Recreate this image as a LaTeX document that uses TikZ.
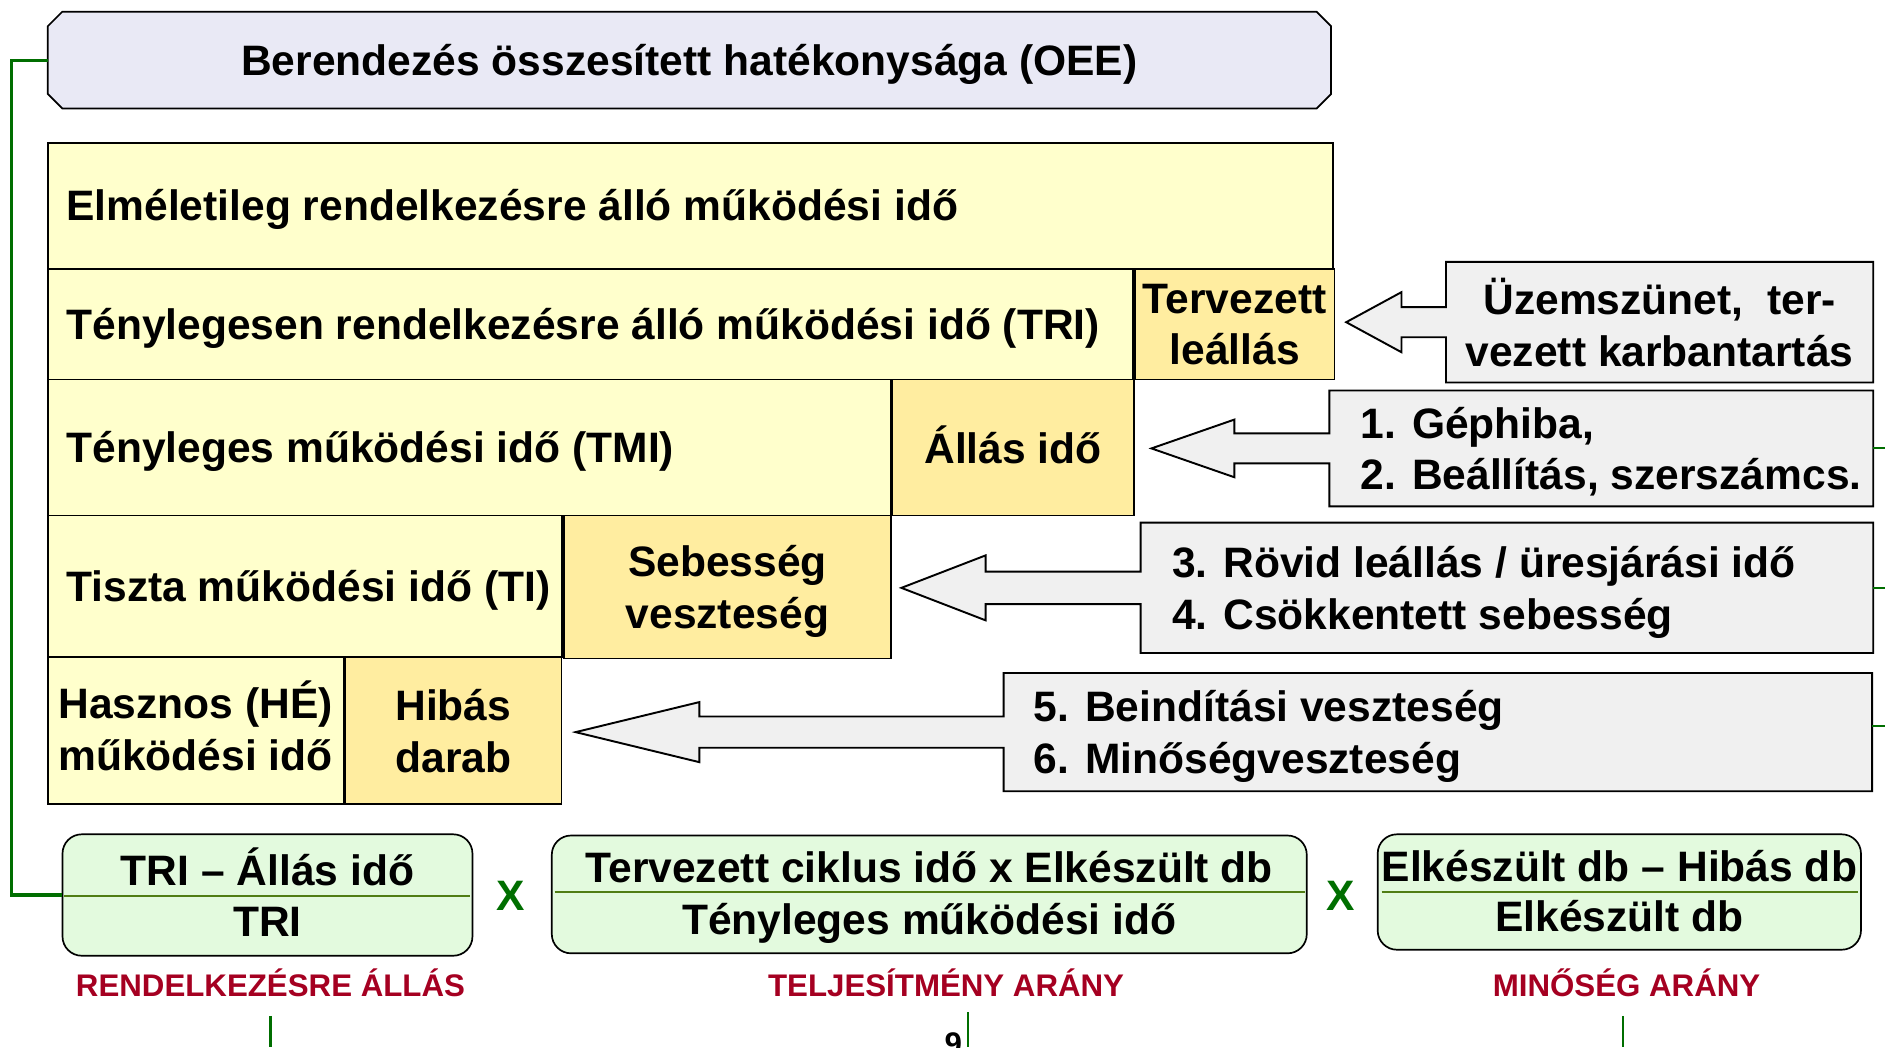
\documentclass[tikz,border=0pt]{standalone}
\usepackage{fontspec}
\setmainfont{Liberation Sans}
\usetikzlibrary{calc,backgrounds}

\definecolor{paleyellow}{HTML}{FFFFCC}
\definecolor{lossyellow}{HTML}{FFEDA0}
\definecolor{calloutgray}{HTML}{F0F0F0}
\definecolor{titlelav}{HTML}{E9E9F5}
\definecolor{formulagreen}{HTML}{E3FADE}
\definecolor{linkgreen}{RGB}{0,110,0}
\definecolor{barolive}{RGB}{80,125,20}
\definecolor{ratiored}{RGB}{165,0,33}

\newcommand{\bigtxt}{\fontsize{35.4bp}{43bp}\selectfont\bfseries}
\newcommand{\redtxt}{\fontsize{26bp}{30bp}\selectfont\bfseries}
\newcommand{\pagetxt}{\fontsize{26bp}{30bp}\selectfont\bfseries}

% callout outline: box plus left-pointing block arrow
% #1 node, #2 arrow head base (offset from west), #3 tip offset, #4 head half height, #5 shaft half height
\newcommand{\calloutoutline}[5]{%
  \draw[callout] (#1.north west) -- (#1.north east) -- (#1.south east) -- (#1.south west)
    -- ($(#1.west)+(0,#5)$) -- ($(#1.west)+(#2,#5)$) -- ($(#1.west)+(#2,#4)$)
    -- ($(#1.west)+(#3,0)$)
    -- ($(#1.west)+(#2,-#4)$) -- ($(#1.west)+(#2,-#5)$) -- ($(#1.west)+(0,-#5)$) -- cycle;}

\begin{document}
\begin{tikzpicture}[x=1bp,y=-1bp,
  box/.style={draw=black, line width=1.4bp, inner sep=0pt, anchor=north west},
  base/.style={box, fill=paleyellow},
  loss/.style={box, fill=lossyellow, font=\bigtxt, align=center, text depth=0pt},
  txt/.style={font=\bigtxt, inner sep=0pt},
  holder/.style={inner sep=0pt, draw=none},
  callout/.style={draw=black, line width=1.6bp, fill=calloutgray, line join=miter},
  ctext/.style={font=\bigtxt, inner sep=0pt, align=left, text depth=0pt},
  ratio/.style={draw=black, line width=1.4bp, fill=formulagreen, rounded corners=16bp, inner sep=0pt},
  bar/.style={draw=barolive, line width=1.6bp},
  link/.style={draw=linkgreen, line width=2.6bp},
  tick/.style={draw=linkgreen, line width=1.8bp},
  times/.style={text=linkgreen, font=\bigtxt, inner sep=0pt},
  ratiolabel/.style={text=ratiored, font=\redtxt, inner sep=0pt, anchor=base}]

\useasboundingbox (0,0) rectangle (1568,871);

% ---- title ----
\node[holder, minimum width=1067bp, minimum height=80bp, font=\bigtxt, text depth=0pt] (oee) at (573.5,50)
  {Berendezés összesített hatékonysága (OEE)};
\begin{scope}[on background layer]
  \draw[draw=black, line width=1.4bp, fill=titlelav]
    ($(oee.north west)+(12,0)$) -- ($(oee.north east)+(-12,0)$) -- ($(oee.north east)+(0,12)$)
    -- ($(oee.south east)+(0,-12)$) -- ($(oee.south east)+(-12,0)$) -- ($(oee.south west)+(12,0)$)
    -- ($(oee.south west)+(0,-12)$) -- ($(oee.north west)+(0,12)$) -- cycle;
\end{scope}

% ---- time breakdown ----
\node[base, minimum width=1069bp, minimum height=105bp] (r1) at (39,118) {};
\node[txt, anchor=base west] (r1t) at ($(r1.west)+(16,12.3)$) {Elméletileg rendelkezésre álló működési idő};

\node[base, minimum width=903bp, minimum height=92bp] (r2) at (39,223) {};
\node[txt, anchor=base west] (r2t) at ($(r2.west)+(16,12.3)$) {Ténylegesen rendelkezésre álló működési idő (TRI)};
\node[loss, minimum width=166bp, minimum height=92bp] (tl) at (r2.north east) {Tervezett\\leállás};

\node[base, minimum width=701bp, minimum height=113bp] (r3) at (39,315) {};
\node[txt, anchor=base west] (r3t) at ($(r3.west)+(16,12.3)$) {Tényleges működési idő (TMI)};
\node[loss, minimum width=201bp, minimum height=113bp, text height=26bp] (ai) at (r3.north east) {Állás idő};

\node[base, minimum width=428bp, minimum height=118bp] (r4) at (39,428) {};
\node[txt, anchor=base west] (r4t) at ($(r4.west)+(16,12.3)$) {Tiszta működési idő (TI)};
\node[loss, minimum width=272bp, minimum height=119bp] (sv) at (r4.north east) {Sebesség\\veszteség};

\node[base, minimum width=246bp, minimum height=122bp] (r5) at (39,546) {};
\node[txt, align=center, text depth=0pt] (r5t) at ($(r5.center)+(0,-4)$) {Hasznos (HÉ)\\működési idő};
\node[loss, minimum width=180bp, minimum height=122bp] (hd) at (r5.north east) {Hibás\\darab};

% ---- loss causes ----
\node[holder, minimum width=355bp, minimum height=100bp, font=\bigtxt, align=center, text depth=0pt] (c1) at (1380.5,268)
  {Üzemszünet,\ \ ter-\\vezett karbantartás};
\node[holder, minimum width=452bp, minimum height=96bp] (c2) at (1332,373) {};
\node[ctext, anchor=west] (c2t) at ($(c2.west)+(26,0)$) {1. Géphiba,\\2. Beállítás, szerszámcs.};
\node[holder, minimum width=609bp, minimum height=108bp] (c3) at (1253.5,489) {};
\node[ctext, anchor=west] (c3t) at ($(c3.west)+(26,0)$) {3. Rövid leállás / üresjárási idő\\4. Csökkentett sebesség};
\node[holder, minimum width=722bp, minimum height=98bp] (c4) at (1196,609) {};
\node[ctext, anchor=west] (c4t) at ($(c4.west)+(25,0)$) {5. Beindítási veszteség\\6. Minőségveszteség};

\begin{scope}[on background layer]
  \calloutoutline{c1}{-37}{-83}{25}{12.5}
  \calloutoutline{c2}{-79}{-148}{24}{12.5}
  \calloutoutline{c3}{-129}{-199}{27}{13.5}
  \calloutoutline{c4}{-253}{-356}{25}{13}
\end{scope}

% links leaving to the right
\coordinate (e2) at (1568,373);
\coordinate (e3) at (1568,489);
\coordinate (e4) at (1568,604);
\draw[tick] (c2.east) -- (e2);
\draw[tick] (c3.east) -- (e3);
\draw[tick] (c4.east |- e4) -- (e4);

% ---- OEE formula ----
\node[ratio, minimum width=341bp, minimum height=101bp] (f1) at (222.5,744.5) {};
\node[ratio, minimum width=628bp, minimum height=98bp] (f2) at (773,744) {};
\node[ratio, minimum width=402bp, minimum height=96bp] (f3) at (1347,742) {};

\draw[bar] ($(f1.west)+(2,0.5)$) -- ($(f1.east)+(-3,0.5)$);
\draw[bar] ($(f2.west)+(3,-2)$) -- ($(f2.east)+(-2,-2)$);
\draw[bar] ($(f3.west)+(4,0)$) -- ($(f3.east)+(-3,0)$);

\node[txt, anchor=base] (f1n) at ($(f1.center)+(0,-8)$) {TRI -- Állás idő};
\node[txt, anchor=base] (f1d) at ($(f1.center)+(0,34.5)$) {TRI};
\node[txt, anchor=base] (f2n) at ($(f2.center)+(0,-10)$) {Tervezett ciklus idő x Elkészült db};
\node[txt, anchor=base] (f2d) at ($(f2.center)+(0,33)$) {Tényleges működési idő};
\node[txt, anchor=base] (f3n) at ($(f3.center)+(0,-9)$) {Elkészült db -- Hibás db};
\node[txt, anchor=base] (f3d) at ($(f3.center)+(0,33)$) {Elkészült db};

\node[times] (x1) at (425,745) {X};
\node[times] (x2) at (1115,745) {X};

\node[ratiolabel] (l1) at (225,829) {RENDELKEZÉSRE ÁLLÁS};
\node[ratiolabel] (l2) at (787,829) {TELJESÍTMÉNY ARÁNY};
\node[ratiolabel] (l3) at (1353,829) {MINŐSÉG ARÁNY};

% green link from the title to the first ratio
\draw[link] (oee.west) -- ++(-30,0) |- (f1.west);

% links below the ratio labels
\coordinate (t1) at (225,845);  \coordinate (t1e) at (225,871);
\coordinate (t2) at (805,842);  \coordinate (t2e) at (805,871);
\coordinate (t3) at (1350,845); \coordinate (t3e) at (1350,871);
\draw[tick] (t1) -- (t1e);
\draw[tick] (t2) -- (t2e);
\draw[tick] (t3) -- (t3e);

\node[inner sep=0pt, font=\pagetxt, anchor=north] (pg) at (793,859) {9};
\end{tikzpicture}
\end{document}
